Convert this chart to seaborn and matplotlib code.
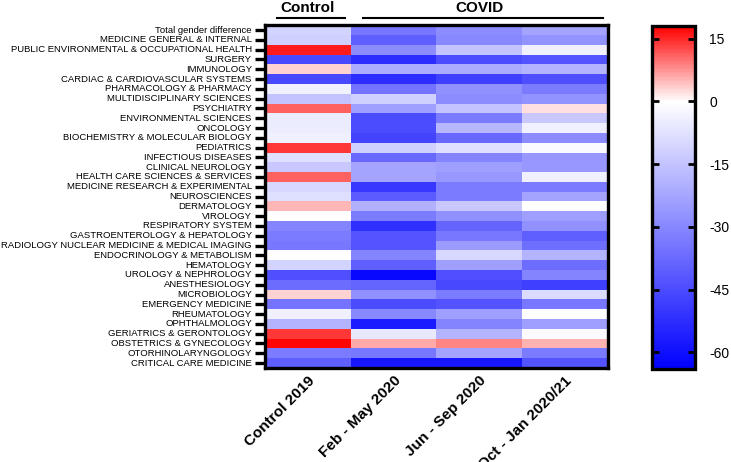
import numpy as np
import pandas as pd
import matplotlib
matplotlib.use('Agg')
import matplotlib.pyplot as plt
from matplotlib.colors import LinearSegmentedColormap
import seaborn as sns

plt.rcParams['font.family'] = ['Liberation Sans', 'DejaVu Sans']
plt.rcParams['axes.unicode_minus'] = False

# Categories (rows) and periods (columns)
categories = [
    'Total gender difference', 'MEDICINE GENERAL & INTERNAL',
    'PUBLIC ENVIRONMENTAL & OCCUPATIONAL HEALTH', 'SURGERY', 'IMMUNOLOGY',
    'CARDIAC & CARDIOVASCULAR SYSTEMS', 'PHARMACOLOGY & PHARMACY',
    'MULTIDISCIPLINARY SCIENCES', 'PSYCHIATRY', 'ENVIRONMENTAL SCIENCES',
    'ONCOLOGY', 'BIOCHEMISTRY & MOLECULAR BIOLOGY', 'PEDIATRICS',
    'INFECTIOUS DISEASES', 'CLINICAL NEUROLOGY', 'HEALTH CARE SCIENCES & SERVICES',
    'MEDICINE RESEARCH & EXPERIMENTAL', 'NEUROSCIENCES', 'DERMATOLOGY',
    'VIROLOGY', 'RESPIRATORY SYSTEM', 'GASTROENTEROLOGY & HEPATOLOGY',
    'RADIOLOGY NUCLEAR MEDICINE & MEDICAL IMAGING', 'ENDOCRINOLOGY & METABOLISM',
    'HEMATOLOGY', 'UROLOGY & NEPHROLOGY', 'ANESTHESIOLOGY', 'MICROBIOLOGY',
    'EMERGENCY MEDICINE', 'RHEUMATOLOGY', 'OPHTHALMOLOGY',
    'GERIATRICS & GERONTOLOGY', 'OBSTETRICS & GYNECOLOGY',
    'OTORHINOLARYNGOLOGY', 'CRITICAL CARE MEDICINE',
]
periods = ['Control 2019', 'Feb - May 2020', 'Jun - Sep 2020', 'Oct - Jan 2020/21']

# gender difference values (estimated from the colour scale)
control_2019 = [-11, -12, 16, -46, 3, -46, -4, -15, 11, -5,
                -5, -4, 14, -8, -14, 11, -10, -8, 5, -0.5,
                -31, -33, -34, -0.5, -11, -44, -37, 3, -35, -4,
                -19, 14, 17.6, -33, -40]
feb_may_2020 = [-34, -40, -29, -53, -21, -53, -35, -12, -24, -45,
                -45, -47, -12, -38, -23, -23, -50, -41, -20, -33,
                -52, -43, -43, -31, -40, -62, -39, -28, -45, -30,
                -57, -6, 6, -34, -58]
jun_sep_2020 = [-29, -30, -15, -45, -21, -48, -28, -29, -15, -33,
                -18, -38, -8, -31, -24, -26, -33, -33, -14, -28,
                -39, -34, -25, -10, -24, -44, -46, -33, -43, -24,
                -31, -19, 8.5, -23, -58]
oct_jan_2021 = [-23, -27, -4, -43, -19, -44, -33, -27, 2, -14,
                -4, -29, -1, -26, -26, -4, -33, -23, 0, -24,
                -28, -40, -36, -19, -37, -31, -48, -9, -34, -0.5,
                -24, -1, 5.3, -33, -43]

cbar_ticks = [15, 0, -15, -30, -45, -60]
vmin, vmax = -64, 18

df = pd.DataFrame({
    periods[0]: control_2019,
    periods[1]: feb_may_2020,
    periods[2]: jun_sep_2020,
    periods[3]: oct_jan_2021,
}, index=categories)

# blue -> white (at 0) -> red, linear scale
zero_pos = (0 - vmin) / (vmax - vmin)
cmap = LinearSegmentedColormap.from_list(
    'gd', [(0, '#0000ff'), (zero_pos, '#ffffff'), (1, '#ff0000')])

fig = plt.figure(figsize=(7.31, 4.62), dpi=100)
ax = fig.add_axes([0.3625, 0.2035, 0.469, 0.742])
cax = fig.add_axes([0.892, 0.2013, 0.059, 0.742])

sns.heatmap(df, ax=ax, cbar_ax=cax, cmap=cmap, vmin=vmin, vmax=vmax,
            xticklabels=True, yticklabels=True,
            cbar_kws={'ticks': cbar_ticks})

for s in ax.spines.values():
    s.set_visible(True)
    s.set_linewidth(2.4)
    s.set_color('black')

ax.tick_params(axis='y', length=7.5, width=2.4, pad=2, labelsize=6.8)
ax.tick_params(axis='x', length=0, pad=4)
ax.set_xticklabels(periods, rotation=45, ha='right', rotation_mode='anchor',
                   fontsize=11, fontweight='bold')
ax.set_yticklabels(categories, rotation=0)
ax.set_xlabel('')
ax.set_ylabel('')

# group headers
trans = ax.get_xaxis_transform()
ax.plot([0.14, 0.93], [1.02, 1.02], color='black', lw=1.5, transform=trans, clip_on=False)
ax.plot([1.14, 3.94], [1.02, 1.02], color='black', lw=1.5, transform=trans, clip_on=False)
ax.text(0.5, 1.05, 'Control', transform=trans, ha='center', va='center',
        fontsize=11, fontweight='bold')
ax.text(2.5, 1.05, 'COVID', transform=trans, ha='center', va='center',
        fontsize=11, fontweight='bold')

# colorbar styling
cbar = ax.collections[0].colorbar
cbar.outline.set_linewidth(2.4)
cbar.outline.set_edgecolor('black')
cax.tick_params(direction='in', left=True, right=True, length=5, width=2,
                labelsize=10, pad=10)

fig.savefig('out.png', dpi=100)
